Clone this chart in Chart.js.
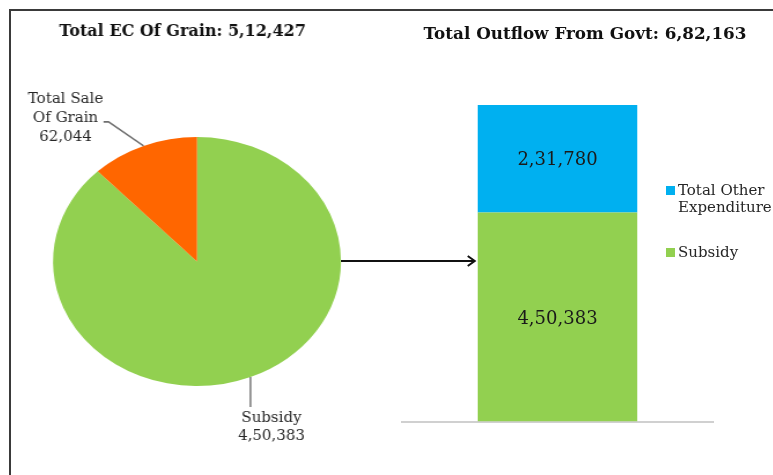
<!DOCTYPE html>
<html>
<head>
<meta charset="utf-8">
<script src="https://cdn.jsdelivr.net/npm/chart.js@4/dist/chart.umd.min.js"></script>
<style>
  html, body { margin: 0; padding: 0; background: #fff; overflow: hidden; }
  body { width: 773px; height: 475px; position: relative; }
  #frame { position: absolute; left: 9px; top: 9px; width: 764px; height: 466px;
           border-top: 2px solid #3a3a3a; border-left: 2px solid #3a3a3a; box-sizing: border-box; }
  #pieWrap { position: absolute; left: 10px; top: 12px; width: 340px; height: 463px;
             transform: scaleX(1.1566); transform-origin: 0 0; }
  #barWrap { position: absolute; left: 330px; top: 10px; width: 443px; height: 465px; }
</style>
</head>
<body>
<div id="frame"></div>
<div id="pieWrap"><canvas id="pie"></canvas></div>
<div id="barWrap"><canvas id="bar"></canvas></div>
<script>
// ---------------- data ----------------
const pieLabels = [['Subsidy'], ['Total Sale', 'Of Grain']];
const pieValues = [450383, 62044];
const pieTitleText = 'Total EC Of Grain';

const barCategories = ['Outflow'];
const seriesNames = [['Subsidy'], ['Total Other', 'Expenditure']];
const subsidyValues = [450383];
const otherExpValues = [231780];
const barTitleText = 'Total Outflow From Govt';

// ---------------- helpers ----------------
const GREEN = '#92D050', ORANGE = '#FF6600', BLUE = '#00B0F0';
const SERIF = '"DejaVu Serif", "Liberation Serif", serif';
const SX = 1.1566; // horizontal stretch of the pie wrapper

function fmtIN(n) {
  const s = String(Math.round(n));
  if (s.length <= 3) return s;
  const last3 = s.slice(-3);
  const rest = s.slice(0, -3).replace(/\B(?=(\d{2})+(?!\d))/g, ',');
  return rest + ',' + last3;
}
const sum = a => a.reduce((x, y) => x + y, 0);

// ---------------- pie ----------------
const pieDeco = {
  id: 'pieDeco',
  afterDraw(chart) {
    const ctx = chart.ctx;
    const meta = chart.getDatasetMeta(0);
    ctx.save();
    ctx.scale(1 / SX, 1);
    // title
    ctx.fillStyle = '#111';
    ctx.font = 'bold 16px ' + SERIF;
    ctx.textAlign = 'center';
    ctx.textBaseline = 'alphabetic';
    ctx.fillText(pieTitleText + ': ' + fmtIN(sum(pieValues)), 172.5, 24);

    ctx.strokeStyle = '#6f6f6f';
    ctx.lineWidth = 1.6;
    ctx.font = '15px ' + SERIF;
    ctx.fillStyle = '#262626';
    meta.data.forEach((arc, i) => {
      const p = arc.getProps(['x', 'y', 'startAngle', 'endAngle', 'outerRadius']);
      const mid = (p.startAngle + p.endAngle) / 2;
      const ax = (p.x + Math.cos(mid) * p.outerRadius) * SX;
      const ay = p.y + Math.sin(mid) * p.outerRadius;
      const lines = pieLabels[i].concat([fmtIN(pieValues[i])]);
      if (Math.sin(mid) > 0) {
        ctx.beginPath();
        ctx.moveTo(ax, ay);
        ctx.lineTo(ax, ay + 30);
        ctx.stroke();
        lines.forEach((t, k) => ctx.fillText(t, ax + 21, ay + 45 + k * 18));
      } else {
        ctx.beginPath();
        ctx.moveTo(ax, ay);
        ctx.lineTo(ax - 35, ay - 24);
        ctx.lineTo(ax - 40, ay - 24);
        ctx.stroke();
        const n = lines.length;
        lines.forEach((t, k) => ctx.fillText(t, ax - 78, ay - 24 + (k - (n - 2)) * 19));
      }
    });
    ctx.restore();
  }
};

new Chart(document.getElementById('pie'), {
  type: 'pie',
  data: {
    labels: pieLabels,
    datasets: [{
      data: pieValues,
      backgroundColor: [GREEN, ORANGE],
      borderWidth: 0,
      hoverOffset: 0,
      offset: 0
    }]
  },
  options: {
    responsive: true,
    maintainAspectRatio: false,
    animation: false,
    layout: { padding: { left: 37.18, right: 53.82, top: 125, bottom: 89 } },
    plugins: { legend: { display: false }, tooltip: { enabled: false }, title: { display: false } }
  },
  plugins: [pieDeco]
});

// ---------------- bar ----------------
const barDeco = {
  id: 'barDeco',
  afterDraw(chart) {
    const ctx = chart.ctx;
    const area = chart.chartArea;
    ctx.save();
    // title
    ctx.fillStyle = '#111';
    ctx.font = 'bold 16.8px ' + SERIF;
    ctx.textAlign = 'center';
    ctx.textBaseline = 'alphabetic';
    const total = sum(subsidyValues) + sum(otherExpValues);
    ctx.fillText(barTitleText + ': ' + fmtIN(total), 255, 29);

    // value labels
    ctx.font = '18px ' + SERIF;
    ctx.textBaseline = 'middle';
    ctx.fillStyle = '#1a1a1a';
    let barLeft = null;
    chart.data.datasets.forEach((ds, di) => {
      const meta = chart.getDatasetMeta(di);
      meta.data.forEach((el, j) => {
        const p = el.getProps(['x', 'y', 'base', 'width']);
        barLeft = p.x - p.width / 2;
        ctx.fillText(fmtIN(ds.data[j]), p.x, (p.y + p.base) / 2 + 2);
      });
    });

    // arrow from pie to bar
    const ay = 251;
    const x0 = area.left - 61, x1 = barLeft - 3;
    ctx.strokeStyle = '#111';
    ctx.lineWidth = 2;
    ctx.beginPath();
    ctx.moveTo(x0, ay);
    ctx.lineTo(x1, ay);
    ctx.stroke();
    ctx.beginPath();
    ctx.moveTo(x1 - 7, ay - 5);
    ctx.lineTo(x1, ay);
    ctx.lineTo(x1 - 7, ay + 5);
    ctx.stroke();

    // legend (top series first)
    ctx.textAlign = 'left';
    ctx.textBaseline = 'alphabetic';
    ctx.font = '15px ' + SERIF;
    const lx = area.right - 47;
    let ly = 176;
    const order = chart.data.datasets.map((d, i) => i).reverse();
    order.forEach(di => {
      const ds = chart.data.datasets[di];
      ctx.fillStyle = ds.backgroundColor;
      ctx.fillRect(lx, ly, 9, 9);
      ctx.fillStyle = '#262626';
      const lines = seriesNames[di];
      lines.forEach((t, k) => ctx.fillText(t, lx + 12, ly + 9 + k * 17));
      ly += 62;
    });
    ctx.restore();
  }
};

new Chart(document.getElementById('bar'), {
  type: 'bar',
  data: {
    labels: barCategories,
    datasets: [
      { label: 'Subsidy', data: subsidyValues, backgroundColor: GREEN, borderWidth: 0,
        barPercentage: 0.513, categoryPercentage: 1 },
      { label: 'Total Other Expenditure', data: otherExpValues, backgroundColor: BLUE, borderWidth: 0,
        barPercentage: 0.513, categoryPercentage: 1 }
    ]
  },
  options: {
    responsive: true,
    maintainAspectRatio: false,
    animation: false,
    layout: { padding: { left: 72, right: 60, top: 95, bottom: 53.5 } },
    scales: {
      x: {
        stacked: true,
        display: true,
        ticks: { display: false },
        grid: { display: false, drawTicks: false },
        border: { display: true, color: '#d0d0d0', width: 2 }
      },
      y: {
        stacked: true,
        display: false,
        min: 0,
        max: sum(subsidyValues) + sum(otherExpValues)
      }
    },
    plugins: { legend: { display: false }, tooltip: { enabled: false }, title: { display: false } }
  },
  plugins: [barDeco]
});
</script>
</body>
</html>
